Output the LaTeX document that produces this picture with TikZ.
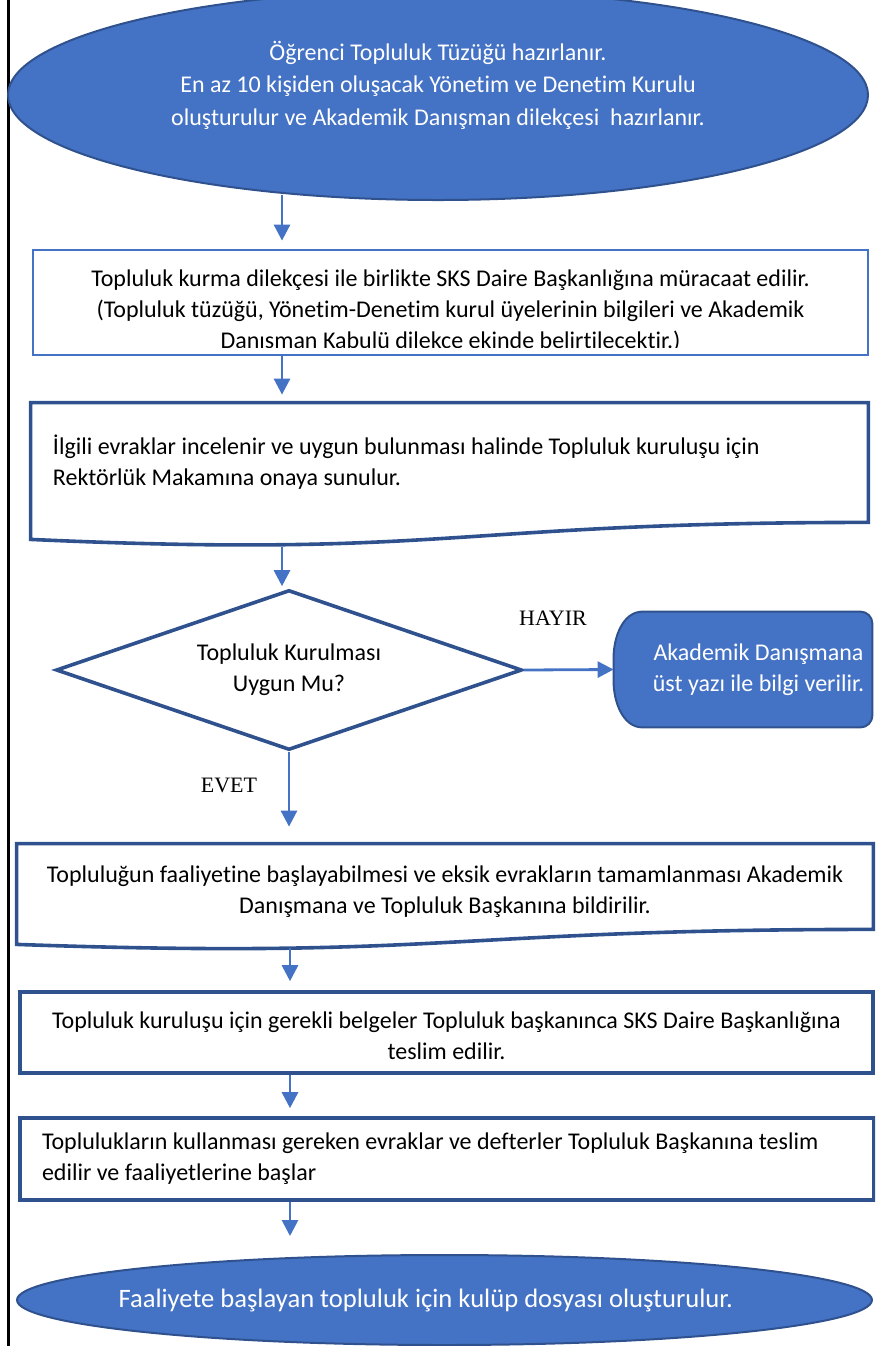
\documentclass[tikz,border=0pt]{standalone}
\usepackage{fontspec}
\setmainfont{Carlito}[Ligatures=NoCommon]
\newfontfamily\timesfnt{Liberation Serif}
\usetikzlibrary{shapes.geometric,arrows.meta,backgrounds}
\definecolor{lblue}{HTML}{4472C4}
\definecolor{dblue}{HTML}{2F528F}

\begin{document}
\begin{tikzpicture}[x=0.5pt,y=-0.5pt,
        every node/.style={font=\fontsize{12}{15.5}\selectfont},
        arr/.style={lblue,line width=1.4pt,-{Triangle[width=8pt,length=8pt]},shorten >=4pt},
        oval/.style={ellipse,draw=dblue,line width=1pt,fill=lblue,text=white,align=center,inner sep=0pt},
        box/.style={rectangle,draw=dblue,line width=1.8pt,inner sep=0pt,align=center},
        doc/.style={rectangle,inner sep=0pt,align=center},
        docline/.style={draw=dblue,line width=1.8pt},
        term/.style={fill=lblue,draw=dblue,line width=1pt,rounded corners=6pt},
        lbl/.style={font=\timesfnt\fontsize{11}{13}\selectfont}]
        \clip (0,0) rectangle (875,1346);
        %% columns of the arrows
        \coordinate (c1) at (282,0);
        \coordinate (c2) at (290,0);
        %% page edge
        \draw[line width=1.3pt] (8.7,0) -- (8.7,1346);
        %% start
        \node[oval,minimum width=430pt,minimum height=105pt,text depth=12pt,font=\fontsize{12}{16.25}\selectfont] (start) at (438,95)
            {Öğrenci Topluluk Tüzüğü hazırlanır.\\En az 10 kişiden oluşacak Yönetim ve Denetim Kurulu\\oluşturulur ve Akademik Danışman dilekçesi\ \ hazırlanır.};
        %% application
        \node[box,draw=lblue,line width=1.4pt,minimum width=417.5pt,minimum height=52.5pt] (b1) at (450.5,302.5) {};
        \begin{scope}
            \clip ([shift={(1pt,4.5pt)}]b1.south west) rectangle ([shift={(-1pt,-1pt)}]b1.north east);
            \node[align=center] (t1) at (450.5,311)
                {Topluluk kurma dilekçesi ile birlikte SKS Daire Başkanlığına müracaat edilir.\\(Topluluk tüzüğü, Yönetim-Denetim kurul üyelerinin bilgileri ve Akademik\\Danışman Kabulü dilekçe ekinde belirtilecektir.)};
        \end{scope}
        \draw[arr,shorten <=-3pt] (start.south -| c1) -- (b1.north -| c1);
        %% review
        \node[doc,align=flush left,text width=396.5pt,inner xsep=11pt,minimum width=418.5pt,minimum height=59.5pt] (b2) at (449.5,462.5)
            {İlgili evraklar incelenir ve uygun bulunması halinde Topluluk kuruluşu için\\Rektörlük Makamına onaya sunulur.};
        \draw[docline] (b2.north west) -- (b2.north east) -- (b2.south east)
            .. controls (b2.south) and ([yshift=-18pt]b2.south) .. ([yshift=-8.5pt]b2.south west) -- cycle;
        \draw[arr] (b1.south -| c1) -- (b2.north -| c1);
        %% decision
        \node[box,diamond,aspect=2.9,minimum width=233pt,minimum height=80pt] (q) at (289,670) {Topluluk Kurulması\\Uygun Mu?};
        \draw[arr,shorten >=1pt] ([yshift=-12.5pt]b2.south -| c1) -- (q.north -| c1);
        %% no
        \node[align=center,text=white,inner sep=0pt,minimum width=113.5pt,minimum height=57.5pt] (no) at (758.5,669.5)
            {Akademik Danışmana\\üst yazı ile bilgi verilir.};
        \begin{scope}[on background layer]
            \path[term] (no.north east) -- (no.south east) -- ([xshift=5pt]no.south west)
                to[out=180,in=-90,looseness=1.15] ([xshift=-15.5pt]no.west)
                to[out=90,in=180,looseness=1.15] ([xshift=5pt]no.north west) -- cycle;
        \end{scope}
        \node[lbl] (hayir) at (553,618) {HAYIR};
        \draw[arr,shorten >=0pt] (q.east) -- ([xshift=-15.5pt]no.west);
        %% yes
        \node[lbl] (evet) at (229,785) {EVET};
        \node[doc,text height=29.5pt,minimum width=428pt,minimum height=42.5pt] (b4) at (445,886.5)
            {Topluluğun faaliyetine başlayabilmesi ve eksik evrakların tamamlanması Akademik\\Danışmana ve Topluluk Başkanına bildirilir.};
        \draw[docline] (b4.north west) -- (b4.north east) -- (b4.south east)
            .. controls (b4.south) and ([yshift=-15pt]b4.south) .. ([yshift=-7.5pt]b4.south west) -- cycle;
        \draw[arr,shorten >=8.5pt] (q.south) -- (b4.north -| q.south);
        %% documents
        \node[box,text height=27.5pt,minimum width=426.5pt,minimum height=40.5pt] (b5) at (446.5,1032.5)
            {Topluluk kuruluşu için gerekli belgeler Topluluk başkanınca SKS Daire Başkanlığına\\teslim edilir.};
        \draw[arr,shorten >=4.5pt] ([yshift=-9.5pt]b4.south -| c2) -- (b5.north -| c2);
        \node[box,align=flush left,text width=405pt,inner xsep=11pt,minimum width=427pt,minimum height=41pt] (b6) at (447,1159)
            {Toplulukların kullanması gereken evraklar ve defterler Topluluk Başkanına teslim\\edilir ve faaliyetlerine başlar};
        \draw[arr] (b5.south -| c2) -- (b6.north -| c2);
        %% end
        \node[oval,minimum width=427.5pt,minimum height=45pt,font=\fontsize{13.3}{16}\selectfont] (end) at (444.5,1300)
            {\hspace*{-18.75pt}Faaliyete başlayan topluluk için kulüp dosyası oluşturulur.};
        \draw[arr,shorten >=9pt] (b6.south -| c2) -- (end.north -| c2);
\end{tikzpicture}
\end{document}
